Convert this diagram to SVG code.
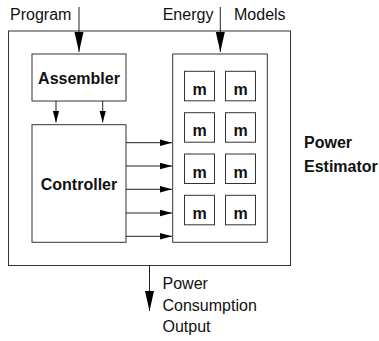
<svg xmlns="http://www.w3.org/2000/svg" width="379" height="341" viewBox="0 0 379 341">
<style>
  .box{fill:#fff;stroke:#333;stroke-width:1}
  .ln{fill:none;stroke:#222;stroke-width:1}
  .t{font-family:"Liberation Sans",Arial,sans-serif;font-size:16px;fill:#111}
  .b{font-family:"Liberation Sans",Arial,sans-serif;font-size:16px;font-weight:bold;fill:#111}
</style>
<defs>
  <marker id="big" markerUnits="userSpaceOnUse" markerWidth="20" markerHeight="10" refX="20" refY="4.5" orient="auto" viewBox="0 0 20 9">
    <path d="M0,0 L20,4.5 L0,9 Z" fill="#000"/>
  </marker>
  <marker id="small" markerUnits="userSpaceOnUse" markerWidth="12" markerHeight="7" refX="12" refY="3.25" orient="auto" viewBox="0 0 12 6.5">
    <path d="M0,0 L12,3.25 L0,6.5 Z" fill="#000"/>
  </marker>
</defs>
<rect width="379" height="341" fill="#fff"/>
<g id="estimator">
  <rect class="box" x="8.5" y="31" width="282" height="234.5"/>
  <text class="b" x="304" y="148">Power</text>
  <text class="b" x="304" y="171.5">Estimator</text>
</g>
<g id="assembler">
  <rect class="box" x="32" y="54" width="94" height="47"/>
  <text class="b" x="79" y="84" text-anchor="middle">Assembler</text>
</g>
<g id="controller">
  <rect class="box" x="32" y="124.7" width="94" height="117.6"/>
  <text class="b" x="79" y="190" text-anchor="middle">Controller</text>
</g>
<g id="models">
  <rect class="box" x="172.7" y="54" width="94.6" height="188.3"/>
  <g id="m1"><rect class="box" x="184.5" y="71.3" width="30" height="29.5"/><text class="b" x="199.5" y="95" text-anchor="middle">m</text></g>
  <g id="m2"><rect class="box" x="225.5" y="71.3" width="30" height="29.5"/><text class="b" x="240.5" y="95" text-anchor="middle">m</text></g>
  <g id="m3"><rect class="box" x="184.5" y="112.7" width="30" height="29.5"/><text class="b" x="199.5" y="136.4" text-anchor="middle">m</text></g>
  <g id="m4"><rect class="box" x="225.5" y="112.7" width="30" height="29.5"/><text class="b" x="240.5" y="136.4" text-anchor="middle">m</text></g>
  <g id="m5"><rect class="box" x="184.5" y="154" width="30" height="29.5"/><text class="b" x="199.5" y="177.7" text-anchor="middle">m</text></g>
  <g id="m6"><rect class="box" x="225.5" y="154" width="30" height="29.5"/><text class="b" x="240.5" y="177.7" text-anchor="middle">m</text></g>
  <g id="m7"><rect class="box" x="184.5" y="195.3" width="30" height="29.5"/><text class="b" x="199.5" y="219" text-anchor="middle">m</text></g>
  <g id="m8"><rect class="box" x="225.5" y="195.3" width="30" height="29.5"/><text class="b" x="240.5" y="219" text-anchor="middle">m</text></g>
</g>
<g id="labels">
  <text class="t" x="10" y="19.5">Program</text>
  <text class="t" x="162.7" y="20">Energy</text>
  <text class="t" x="234" y="20">Models</text>
  <text class="t" x="162.5" y="289">Power</text>
  <text class="t" x="162.5" y="310.5">Consumption</text>
  <text class="t" x="162.5" y="332">Output</text>
</g>
<g id="connectors">
  <line class="ln" x1="79" y1="7" x2="79" y2="52" marker-end="url(#big)"/>
  <line class="ln" x1="220.3" y1="7" x2="220.3" y2="52" marker-end="url(#big)"/>
  <line class="ln" x1="149.5" y1="265.7" x2="149.5" y2="311" marker-end="url(#big)"/>
  <line class="ln" x1="56" y1="101" x2="56" y2="122.5" marker-end="url(#small)"/>
  <line class="ln" x1="102.7" y1="101" x2="102.7" y2="122.5" marker-end="url(#small)"/>
  <line class="ln" x1="126" y1="142.7" x2="172" y2="142.7" marker-end="url(#small)"/>
  <line class="ln" x1="126" y1="166" x2="172" y2="166" marker-end="url(#small)"/>
  <line class="ln" x1="126" y1="189.3" x2="172" y2="189.3" marker-end="url(#small)"/>
  <line class="ln" x1="126" y1="213" x2="172" y2="213" marker-end="url(#small)"/>
  <line class="ln" x1="126" y1="236.3" x2="172" y2="236.3" marker-end="url(#small)"/>
</g>
</svg>
